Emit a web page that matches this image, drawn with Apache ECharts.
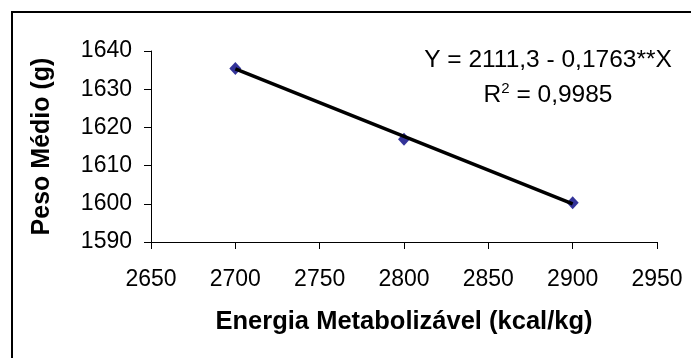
<!DOCTYPE html>
<html>
<head>
<meta charset="utf-8">
<script src="https://cdn.jsdelivr.net/npm/echarts@6/dist/echarts.min.js"></script>
<style>
  html, body { margin: 0; padding: 0; background: #fff; }
  #chart { width: 691px; height: 358px; }
</style>
</head>
<body>
<div id="chart"></div>
<script>
// energia metabolizavel (kcal/kg) and peso medio (g)
const energia = [2700, 2800, 2900]
const pesoMedio = [1635.4, 1616.9, 1600.3]
// linear trend line ends
const trendX = [2700, 2900]
const trendY = [1635.3, 1600.0]
const equationText = 'Y = 2111,3 - 0,1763**X'
const r2Value = '0,9985'

const font = 'Liberation Sans, Arial, sans-serif'
const chart = echarts.init(document.getElementById('chart'))

const option = {
  backgroundColor: '#fff',
  animation: false,
  grid: {
    left: 151,
    right: 34,
    top: 51,
    bottom: 116,
    containLabel: false
  },
  xAxis: {
    type: 'value',
    min: 2650,
    max: 2950,
    interval: 50,
    name: 'Energia Metabolizável (kcal/kg)',
    nameLocation: 'middle',
    nameGap: 67,
    nameTextStyle: { color: '#000', fontFamily: font, fontSize: 25.5, fontWeight: 'bold' },
    axisLine: { show: true, onZero: false, lineStyle: { color: '#000', width: 1 } },
    axisTick: { show: true, length: 7, lineStyle: { color: '#000' } },
    axisLabel: {
      color: '#000', fontFamily: font, fontSize: 23, margin: 26,
      formatter: v => String(v)
    },
    splitLine: { show: false }
  },
  yAxis: {
    type: 'value',
    min: 1590,
    max: 1640,
    interval: 10,
    name: 'Peso Médio (g)',
    nameLocation: 'middle',
    nameGap: 96,
    nameTextStyle: { color: '#000', fontFamily: font, fontSize: 25, fontWeight: 'bold' },
    axisLine: { show: true, onZero: false, lineStyle: { color: '#000', width: 1 } },
    axisTick: { show: true, length: 7, lineStyle: { color: '#000' } },
    axisLabel: {
      color: '#000', fontFamily: font, fontSize: 23, margin: 19,
      formatter: v => String(v)
    },
    splitLine: { show: false }
  },
  series: [
    {
      name: 'Peso',
      type: 'scatter',
      symbol: 'diamond',
      symbolSize: [12, 13],
      itemStyle: { color: '#000080' },
      data: energia.map((x, i) => [x, pesoMedio[i]]),
      z: 2
    },
    {
      name: 'Tendência',
      type: 'line',
      showSymbol: false,
      lineStyle: { color: '#000', width: 3.5 },
      data: trendX.map((x, i) => [x, trendY[i]]),
      z: 3
    }
  ],
  graphic: [
    {
      type: 'line',
      shape: { x1: 11, y1: 12, x2: 691, y2: 12 },
      style: { stroke: '#000', lineWidth: 2 }
    },
    {
      type: 'line',
      shape: { x1: 12, y1: 11, x2: 12, y2: 358 },
      style: { stroke: '#000', lineWidth: 2 }
    },
    {
      type: 'text',
      x: 548,
      y: 60,
      style: {
        text: equationText,
        fill: '#000',
        font: '24.5px ' + font,
        textAlign: 'center',
        textVerticalAlign: 'middle'
      }
    },
    {
      type: 'text',
      x: 548,
      y: 95,
      style: {
        text: '{a|R}{s|2}{a| = ' + r2Value + '}',
        textAlign: 'center',
        textVerticalAlign: 'middle',
        rich: {
          a: { fontFamily: font, fontSize: 24.5, fill: '#000', color: '#000' },
          s: { fontFamily: font, fontSize: 15, fill: '#000', color: '#000', verticalAlign: 'top', padding: [0, 0, 13, 0] }
        }
      }
    }
  ]
}

chart.setOption(option)
</script>
</body>
</html>
